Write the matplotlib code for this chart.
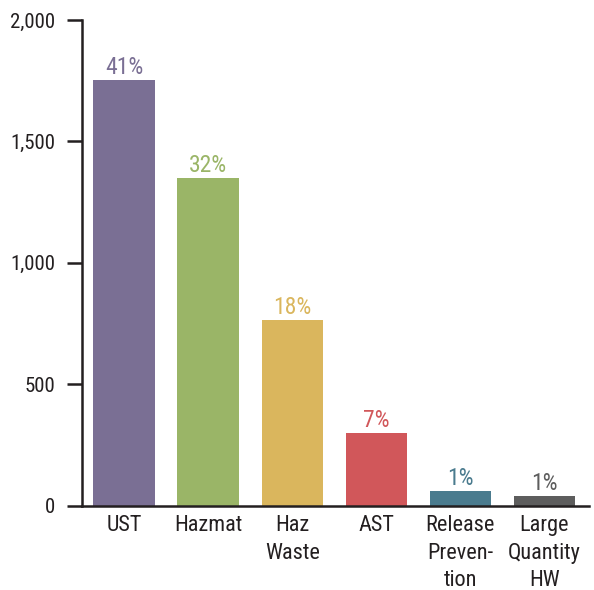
import matplotlib
matplotlib.use("Agg")
import matplotlib.pyplot as plt
from matplotlib import font_manager

categories = ["UST", "Hazmat", "Haz\nWaste", "AST", "Release\nPreven-\ntion", "Large\nQuantity\nHW"]
values = [1753, 1349, 764, 300, 60, 40]
pct_labels = ["41%", "32%", "18%", "7%", "1%", "1%"]
colors = ["#7a6f94", "#9ab567", "#dab65d", "#d1575a", "#4a7b8e", "#5d5d5d"]
yticks = [0, 500, 1000, 1500, 2000]

avail = {f.name for f in font_manager.fontManager.ttflist}
fams = [f for f in ["Roboto Condensed", "Liberation Sans Narrow", "DejaVu Sans Condensed", "Roboto", "DejaVu Sans"] if f in avail]
plt.rcParams['font.family'] = fams

ink = "#231f20"
fig = plt.figure(figsize=(5.94, 5.90), dpi=100)
ax = fig.add_axes([82/594, (590-505.5)/590, (589-82)/594, (505.5-20)/590])

x = list(range(len(categories)))
ax.bar(x, values, width=0.73, color=colors, zorder=2)
for xi, v, lab, c in zip(x, values, pct_labels, colors):
    ax.annotate(lab, (xi, v), xytext=(0, 0.5), textcoords="offset points",
                ha="center", va="bottom", color=c, fontsize=17)

ax.set_xlim(-0.5, 5.53)
ax.set_ylim(0, 2000)
ax.set_yticks(yticks)
ax.set_yticklabels([f"{t:,}" for t in yticks], fontsize=15, color=ink)
ax.set_xticks(x)
ax.set_xticklabels(categories, fontsize=16, color=ink, linespacing=1.4)
ax.tick_params(axis="x", length=0, pad=7)
ax.tick_params(axis="y", length=11, width=1.8, color=ink, pad=8)
for s in ["top", "right"]:
    ax.spines[s].set_visible(False)
for s in ["left", "bottom"]:
    ax.spines[s].set_linewidth(1.8)
    ax.spines[s].set_color(ink)
    ax.spines[s].set_zorder(3)

fig.savefig("out.png", dpi=100)
